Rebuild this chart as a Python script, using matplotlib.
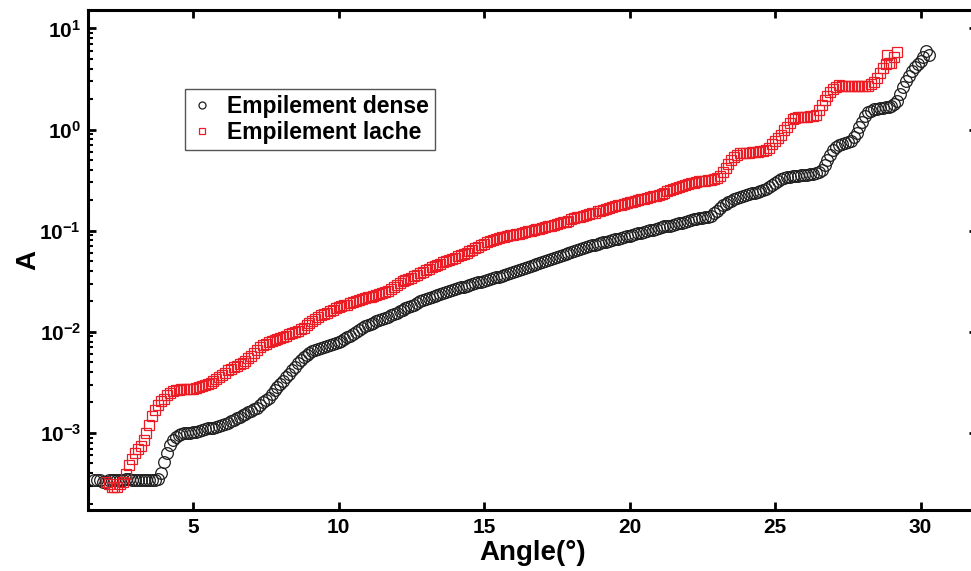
import numpy as np
import matplotlib
matplotlib.use("Agg")
import matplotlib.pyplot as plt
from matplotlib.ticker import LogLocator, FuncFormatter, NullFormatter, FixedLocator

plt.rcParams["font.family"] = ["Liberation Sans", "DejaVu Sans"]
plt.rcParams["font.weight"] = "bold"
plt.rcParams["mathtext.fontset"] = "custom"
plt.rcParams["mathtext.bf"] = "Liberation Sans:bold"
plt.rcParams["mathtext.rm"] = "Liberation Sans:bold"

# ---- data (angle in degrees, A on log scale) ----
dense_angle = [
    1.6, 1.7, 1.8, 1.9, 2.0, 2.1, 2.2, 2.3, 2.4, 2.5,
    2.6, 2.7, 2.8, 2.9, 3.0, 3.1, 3.2, 3.3, 3.4, 3.5,
    3.6, 3.7, 3.8, 3.9, 4.0, 4.1, 4.2, 4.3, 4.4, 4.5,
    4.6, 4.7, 4.8, 4.9, 5.0, 5.1, 5.2, 5.3, 5.4, 5.5,
    5.6, 5.7, 5.8, 5.9, 6.0, 6.1, 6.2, 6.3, 6.4, 6.5,
    6.6, 6.7, 6.8, 6.9, 7.0, 7.1, 7.2, 7.3, 7.4, 7.5,
    7.6, 7.7, 7.8, 7.9, 8.0, 8.1, 8.2, 8.3, 8.4, 8.5,
    8.6, 8.7, 8.8, 8.9, 9.0, 9.1, 9.2, 9.3, 9.4, 9.5,
    9.6, 9.7, 9.8, 9.9, 10.0, 10.1, 10.2, 10.3, 10.4, 10.5,
    10.6, 10.7, 10.8, 10.9, 11.0, 11.1, 11.2, 11.3, 11.4, 11.5,
    11.6, 11.7, 11.8, 11.9, 12.0, 12.1, 12.2, 12.3, 12.4, 12.5,
    12.6, 12.7, 12.8, 12.9, 13.0, 13.1, 13.2, 13.3, 13.4, 13.5,
    13.6, 13.7, 13.8, 13.9, 14.0, 14.1, 14.2, 14.3, 14.4, 14.5,
    14.6, 14.7, 14.8, 14.9, 15.0, 15.1, 15.2, 15.3, 15.4, 15.5,
    15.6, 15.7, 15.8, 15.9, 16.0, 16.1, 16.2, 16.3, 16.4, 16.5,
    16.6, 16.7, 16.8, 16.9, 17.0, 17.1, 17.2, 17.3, 17.4, 17.5,
    17.6, 17.7, 17.8, 17.9, 18.0, 18.1, 18.2, 18.3, 18.4, 18.5,
    18.6, 18.7, 18.8, 18.9, 19.0, 19.1, 19.2, 19.3, 19.4, 19.5,
    19.6, 19.7, 19.8, 19.9, 20.0, 20.1, 20.2, 20.3, 20.4, 20.5,
    20.6, 20.7, 20.8, 20.9, 21.0, 21.1, 21.2, 21.3, 21.4, 21.5,
    21.6, 21.7, 21.8, 21.9, 22.0, 22.1, 22.2, 22.3, 22.4, 22.5,
    22.6, 22.7, 22.8, 22.9, 23.0, 23.1, 23.2, 23.3, 23.4, 23.5,
    23.6, 23.7, 23.8, 23.9, 24.0, 24.1, 24.2, 24.3, 24.4, 24.5,
    24.6, 24.7, 24.8, 24.9, 25.0, 25.1, 25.2, 25.3, 25.4, 25.5,
    25.6, 25.7, 25.8, 25.9, 26.0, 26.1, 26.2, 26.3, 26.4, 26.5,
    26.6, 26.7, 26.8, 26.9, 27.0, 27.1, 27.2, 27.3, 27.4, 27.5,
    27.6, 27.7, 27.8, 27.9, 28.0, 28.1, 28.2, 28.3, 28.4, 28.5,
    28.6, 28.7, 28.8, 28.9, 29.0, 29.1, 29.2, 29.3, 29.4, 29.5,
    29.6, 29.7, 29.8, 29.9, 30.0, 30.1, 30.2, 30.3,
]
dense_a = [
    3.4e-4, 3.4e-4, 3.4e-4, 3.3e-4, 3.3e-4, 3.4e-4, 3.4e-4, 3.4e-4, 3.4e-4, 3.4e-4,
    3.4e-4, 3.5e-4, 3.5e-4, 3.4e-4, 3.4e-4, 3.4e-4, 3.4e-4, 3.4e-4, 3.4e-4, 3.4e-4,
    3.4e-4, 3.4e-4, 3.5e-4, 4.0e-4, 5.2e-4, 6.4e-4, 7.6e-4, 8.5e-4, 9.1e-4, 9.5e-4,
    9.8e-4, 9.9e-4, 1.0e-3, 1.01e-3, 1.02e-3, 1.03e-3, 1.05e-3, 1.07e-3, 1.10e-3, 1.11e-3,
    1.12e-3, 1.13e-3, 1.15e-3, 1.17e-3, 1.20e-3, 1.23e-3, 1.26e-3, 1.30e-3, 1.35e-3, 1.40e-3,
    1.45e-3, 1.50e-3, 1.55e-3, 1.60e-3, 1.66e-3, 1.72e-3, 1.78e-3, 1.88e-3, 2.0e-3, 2.12e-3,
    2.24e-3, 2.42e-3, 2.63e-3, 2.82e-3, 3.02e-3, 3.28e-3, 3.55e-3, 3.85e-3, 4.17e-3, 4.53e-3,
    4.9e-3, 5.25e-3, 5.6e-3, 5.9e-3, 6.2e-3, 6.4e-3, 6.6e-3, 6.75e-3, 6.9e-3, 7.05e-3,
    7.2e-3, 7.4e-3, 7.6e-3, 7.75e-3, 7.9e-3, 8.2e-3, 8.5e-3, 8.8e-3, 9.1e-3, 9.5e-3,
    1.0e-2, 1.05e-2, 1.10e-2, 1.13e-2, 1.17e-2, 1.20e-2, 1.23e-2, 1.28e-2, 1.32e-2, 1.35e-2,
    1.38e-2, 1.41e-2, 1.45e-2, 1.50e-2, 1.55e-2, 1.60e-2, 1.66e-2, 1.70e-2, 1.74e-2, 1.80e-2,
    1.86e-2, 1.93e-2, 2.0e-2, 2.04e-2, 2.09e-2, 2.14e-2, 2.19e-2, 2.24e-2, 2.29e-2, 2.34e-2,
    2.4e-2, 2.45e-2, 2.51e-2, 2.57e-2, 2.63e-2, 2.69e-2, 2.75e-2, 2.78e-2, 2.82e-2, 2.88e-2,
    2.95e-2, 3.02e-2, 3.09e-2, 3.12e-2, 3.16e-2, 3.24e-2, 3.31e-2, 3.39e-2, 3.47e-2, 3.51e-2,
    3.55e-2, 3.63e-2, 3.72e-2, 3.8e-2, 3.89e-2, 3.98e-2, 4.07e-2, 4.17e-2, 4.27e-2, 4.37e-2,
    4.47e-2, 4.57e-2, 4.68e-2, 4.79e-2, 4.9e-2, 5.01e-2, 5.13e-2, 5.25e-2, 5.37e-2, 5.5e-2,
    5.62e-2, 5.75e-2, 5.89e-2, 6.03e-2, 6.17e-2, 6.31e-2, 6.46e-2, 6.61e-2, 6.76e-2, 6.92e-2,
    7.08e-2, 7.16e-2, 7.24e-2, 7.41e-2, 7.59e-2, 7.67e-2, 7.76e-2, 7.94e-2, 8.13e-2, 8.22e-2,
    8.32e-2, 8.51e-2, 8.71e-2, 8.81e-2, 8.91e-2, 9.12e-2, 9.33e-2, 9.44e-2, 9.55e-2, 9.77e-2,
    0.100, 0.101, 0.102, 0.104, 0.106, 0.108, 0.110, 0.111, 0.112, 0.115,
    0.117, 0.118, 0.120, 0.123, 0.126, 0.127, 0.129, 0.130, 0.132, 0.133,
    0.135, 0.138, 0.141, 0.148, 0.158, 0.168, 0.178, 0.185, 0.191, 0.198,
    0.204, 0.209, 0.214, 0.219, 0.224, 0.229, 0.234, 0.237, 0.240, 0.245,
    0.251, 0.260, 0.269, 0.282, 0.295, 0.309, 0.324, 0.331, 0.339, 0.343,
    0.347, 0.349, 0.351, 0.353, 0.355, 0.359, 0.363, 0.367, 0.372, 0.380,
    0.398, 0.447, 0.501, 0.562, 0.631, 0.676, 0.708, 0.724, 0.741, 0.759,
    0.776, 0.85, 0.933, 1.06, 1.20, 1.35, 1.48, 1.54, 1.58, 1.60,
    1.62, 1.64, 1.66, 1.68, 1.70, 1.78, 1.91, 2.24, 2.63, 3.02,
    3.39, 3.8, 4.17, 4.47, 4.79, 5.25, 6.03, 5.4,
]

loose_angle = [
    2.0, 2.1, 2.2, 2.3, 2.4, 2.5, 2.6, 2.7, 2.8, 2.9,
    3.0, 3.1, 3.2, 3.3, 3.4, 3.5, 3.6, 3.7, 3.8, 3.9,
    4.0, 4.1, 4.2, 4.3, 4.4, 4.5, 4.6, 4.7, 4.8, 4.9,
    5.0, 5.1, 5.2, 5.3, 5.4, 5.5, 5.6, 5.7, 5.8, 5.9,
    6.0, 6.1, 6.2, 6.3, 6.4, 6.5, 6.6, 6.7, 6.8, 6.9,
    7.0, 7.1, 7.2, 7.3, 7.4, 7.5, 7.6, 7.7, 7.8, 7.9,
    8.0, 8.1, 8.2, 8.3, 8.4, 8.5, 8.6, 8.7, 8.8, 8.9,
    9.0, 9.1, 9.2, 9.3, 9.4, 9.5, 9.6, 9.7, 9.8, 9.9,
    10.0, 10.1, 10.2, 10.3, 10.4, 10.5, 10.6, 10.7, 10.8, 10.9,
    11.0, 11.1, 11.2, 11.3, 11.4, 11.5, 11.6, 11.7, 11.8, 11.9,
    12.0, 12.1, 12.2, 12.3, 12.4, 12.5, 12.6, 12.7, 12.8, 12.9,
    13.0, 13.1, 13.2, 13.3, 13.4, 13.5, 13.6, 13.7, 13.8, 13.9,
    14.0, 14.1, 14.2, 14.3, 14.4, 14.5, 14.6, 14.7, 14.8, 14.9,
    15.0, 15.1, 15.2, 15.3, 15.4, 15.5, 15.6, 15.7, 15.8, 15.9,
    16.0, 16.1, 16.2, 16.3, 16.4, 16.5, 16.6, 16.7, 16.8, 16.9,
    17.0, 17.1, 17.2, 17.3, 17.4, 17.5, 17.6, 17.7, 17.8, 17.9,
    18.0, 18.1, 18.2, 18.3, 18.4, 18.5, 18.6, 18.7, 18.8, 18.9,
    19.0, 19.1, 19.2, 19.3, 19.4, 19.5, 19.6, 19.7, 19.8, 19.9,
    20.0, 20.1, 20.2, 20.3, 20.4, 20.5, 20.6, 20.7, 20.8, 20.9,
    21.0, 21.1, 21.2, 21.3, 21.4, 21.5, 21.6, 21.7, 21.8, 21.9,
    22.0, 22.1, 22.2, 22.3, 22.4, 22.5, 22.6, 22.7, 22.8, 22.9,
    23.0, 23.1, 23.2, 23.3, 23.4, 23.5, 23.6, 23.7, 23.8, 23.9,
    24.0, 24.1, 24.2, 24.3, 24.4, 24.5, 24.6, 24.7, 24.8, 24.9,
    25.0, 25.1, 25.2, 25.3, 25.4, 25.5, 25.6, 25.7, 25.8, 25.9,
    26.0, 26.1, 26.2, 26.3, 26.4, 26.5, 26.6, 26.7, 26.8, 26.9,
    27.0, 27.1, 27.2, 27.3, 27.4, 27.5, 27.6, 27.7, 27.8, 27.9,
    28.0, 28.1, 28.2, 28.3, 28.4, 28.5, 28.6, 28.7, 28.8, 28.9,
    29.0, 29.1, 29.2, 28.85,
]
loose_a = [
    3.3e-4, 3.1e-4, 2.95e-4, 2.9e-4, 2.95e-4, 3.1e-4, 3.3e-4, 3.9e-4, 4.8e-4, 5.5e-4,
    6.3e-4, 6.9e-4, 7.4e-4, 8.5e-4, 1.0e-3, 1.2e-3, 1.48e-3, 1.7e-3, 1.9e-3, 2.05e-3,
    2.19e-3, 2.35e-3, 2.51e-3, 2.58e-3, 2.63e-3, 2.66e-3, 2.69e-3, 2.7e-3, 2.72e-3, 2.74e-3,
    2.75e-3, 2.8e-3, 2.85e-3, 2.9e-3, 2.95e-3, 3.02e-3, 3.09e-3, 3.24e-3, 3.39e-3, 3.55e-3,
    3.72e-3, 3.95e-3, 4.17e-3, 4.32e-3, 4.47e-3, 4.62e-3, 4.79e-3, 4.95e-3, 5.13e-3, 5.45e-3,
    5.75e-3, 6.2e-3, 6.6e-3, 7.0e-3, 7.4e-3, 7.65e-3, 7.9e-3, 8.1e-3, 8.3e-3, 8.5e-3,
    8.7e-3, 8.9e-3, 9.1e-3, 9.45e-3, 9.8e-3, 1.0e-2, 1.02e-2, 1.06e-2, 1.10e-2, 1.16e-2,
    1.23e-2, 1.29e-2, 1.35e-2, 1.40e-2, 1.45e-2, 1.50e-2, 1.55e-2, 1.60e-2, 1.66e-2, 1.70e-2,
    1.74e-2, 1.78e-2, 1.82e-2, 1.86e-2, 1.91e-2, 1.95e-2, 2.0e-2, 2.04e-2, 2.09e-2, 2.14e-2,
    2.19e-2, 2.21e-2, 2.24e-2, 2.29e-2, 2.34e-2, 2.4e-2, 2.45e-2, 2.54e-2, 2.63e-2, 2.75e-2,
    2.88e-2, 3.02e-2, 3.16e-2, 3.24e-2, 3.31e-2, 3.43e-2, 3.55e-2, 3.67e-2, 3.8e-2, 3.93e-2,
    4.07e-2, 4.22e-2, 4.37e-2, 4.47e-2, 4.57e-2, 4.73e-2, 4.9e-2, 5.01e-2, 5.13e-2, 5.25e-2,
    5.37e-2, 5.56e-2, 5.75e-2, 5.89e-2, 6.03e-2, 6.24e-2, 6.46e-2, 6.69e-2, 6.92e-2, 7.16e-2,
    7.41e-2, 7.67e-2, 7.94e-2, 8.13e-2, 8.32e-2, 8.46e-2, 8.6e-2, 8.75e-2, 8.9e-2, 9.0e-2,
    9.1e-2, 9.2e-2, 9.3e-2, 9.55e-2, 9.8e-2, 9.9e-2, 0.100, 0.102, 0.104, 0.105,
    0.107, 0.108, 0.110, 0.112, 0.114, 0.116, 0.119, 0.121, 0.123, 0.126,
    0.129, 0.132, 0.135, 0.137, 0.140, 0.142, 0.145, 0.148, 0.151, 0.155,
    0.158, 0.161, 0.164, 0.167, 0.170, 0.174, 0.178, 0.181, 0.184, 0.187,
    0.191, 0.194, 0.197, 0.200, 0.204, 0.207, 0.211, 0.215, 0.219, 0.222,
    0.226, 0.231, 0.237, 0.244, 0.251, 0.258, 0.266, 0.272, 0.279, 0.284,
    0.288, 0.293, 0.299, 0.304, 0.309, 0.311, 0.313, 0.315, 0.316, 0.322,
    0.331, 0.350, 0.380, 0.415, 0.457, 0.50, 0.537, 0.562, 0.582, 0.586,
    0.589, 0.592, 0.596, 0.600, 0.603, 0.607, 0.610, 0.630, 0.661, 0.716,
    0.776, 0.832, 0.891, 0.98, 1.07, 1.17, 1.26, 1.30, 1.32, 1.325,
    1.33, 1.34, 1.35, 1.37, 1.40, 1.55, 1.74, 1.95, 2.14, 2.34,
    2.51, 2.65, 2.75, 2.72, 2.69, 2.69, 2.69, 2.69, 2.69, 2.69,
    2.69, 2.69, 2.69, 2.8, 2.95, 3.24, 3.63, 4.07, 4.47, 4.5,
    4.57, 5.2, 5.89, 5.5,
]

series_labels = ["Empilement dense", "Empilement lache"]
x_ticks = [5, 10, 15, 20, 25, 30]

# ---- figure ----
fig = plt.figure(figsize=(9.71, 5.71), dpi=100)
W, H = 971, 571
ax = fig.add_axes([88 / W, 61 / H, (977 - 88) / W, 500 / H])

ax.plot(dense_angle, dense_a, "o", ls="none", mfc="none", mec="#1e1e1e",
        ms=8.4, mew=0.9, label=series_labels[0])
ax.plot(loose_angle, loose_a, "s", ls="none", mfc="none", mec="#ec1c24",
        ms=7.4, mew=0.9, label=series_labels[1])

ax.set_yscale("log")
ax.set_xlim(1.39, 31.94)
ax.set_ylim(1.73e-4, 15.2)

ax.xaxis.set_major_locator(FixedLocator(x_ticks))
ax.xaxis.set_minor_locator(FixedLocator([]))
ax.yaxis.set_major_locator(LogLocator(base=10, numticks=10))
ax.yaxis.set_minor_locator(LogLocator(base=10, subs=np.arange(2, 10), numticks=20))
ax.yaxis.set_minor_formatter(NullFormatter())
ax.yaxis.set_major_formatter(
    FuncFormatter(lambda v, p: r"$\mathbf{10^{%d}}$" % int(round(np.log10(v)))))

for s in ax.spines.values():
    s.set_linewidth(2.2)
ax.tick_params(which="major", direction="in", length=6, width=2.0,
               top=True, right=True, labelsize=15, pad=5)
ax.tick_params(axis="x", which="major", pad=6)
ax.tick_params(axis="y", which="minor", direction="in", length=3.5, width=1.5,
               left=True, right=True)
for t in ax.get_xticklabels() + ax.get_yticklabels():
    t.set_fontweight("bold")

ax.set_xlabel("Angle(°)", fontsize=20, fontweight="bold", labelpad=2)
ax.set_ylabel("A", fontsize=20, fontweight="bold")
ax.yaxis.set_label_coords(-0.052, 0.5)

leg = ax.legend(loc="upper left", bbox_to_anchor=(0.109, 0.842), fontsize=16.5,
                frameon=True, fancybox=False, edgecolor="#555555", framealpha=1,
                markerscale=0.6, handlelength=1.0, handletextpad=0.6,
                labelspacing=0.15, borderpad=0.25, borderaxespad=0)
leg.get_frame().set_linewidth(1.0)
for t in leg.get_texts():
    t.set_fontweight("bold")

fig.savefig("out.png", dpi=100)
